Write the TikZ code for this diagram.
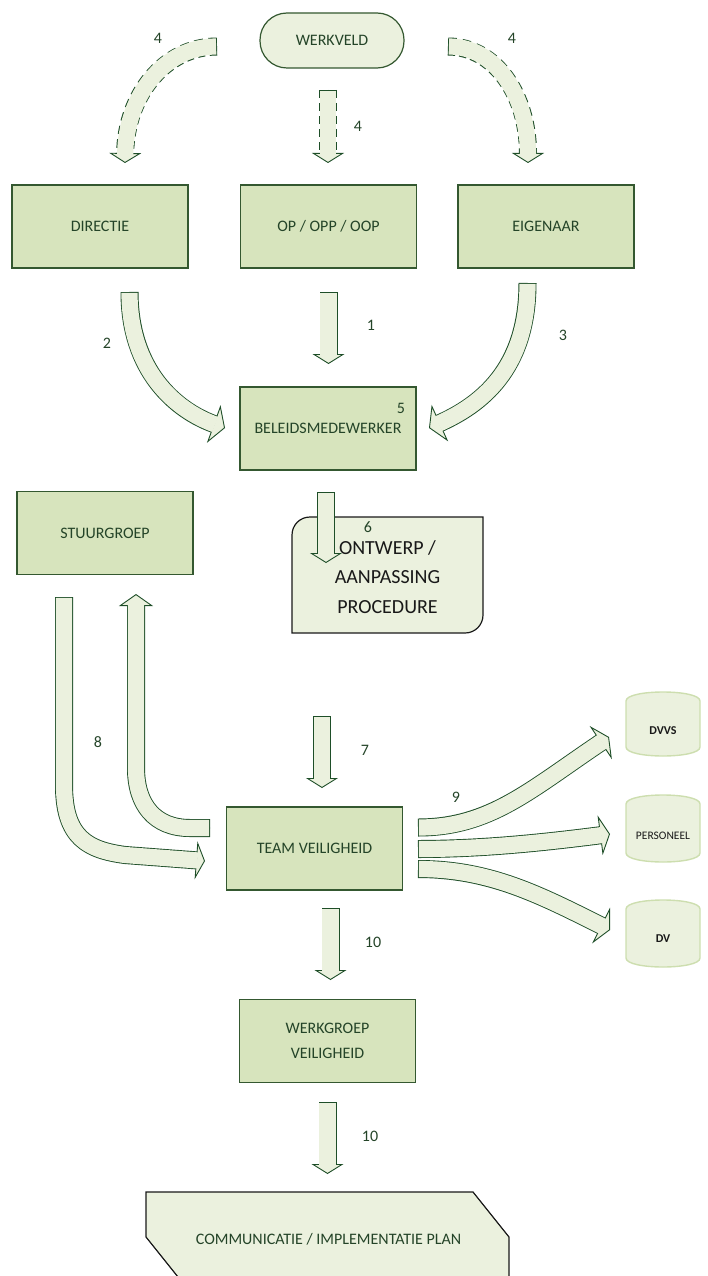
\documentclass[tikz,border=0pt]{standalone}
\usepackage{fontspec}
\setmainfont{Carlito}
\usetikzlibrary{arrows.meta}

\definecolor{boxfill}{RGB}{215,228,189}
\definecolor{boxline}{RGB}{52,88,48}
\definecolor{textgreen}{RGB}{36,68,40}
\definecolor{arrowfill}{RGB}{235,241,222}
\definecolor{arrowline}{RGB}{30,78,40}
\definecolor{canline}{RGB}{205,222,175}
\definecolor{darktext}{RGB}{25,25,25}

\tikzset{
  box/.style={draw=boxline, fill=boxfill, line width=1.4pt, minimum width=176pt, minimum height=83pt, inner sep=0pt, text=textgreen, align=center},
  startbox/.style={draw=boxline, fill=arrowfill, line width=1.2pt, rounded corners=27pt, minimum width=144pt, minimum height=55pt, text=textgreen},
  procbox/.style={draw=darktext, fill=arrowfill, line width=1.2pt},
  can/.style={draw=canline, fill=arrowfill, line width=1.4pt},
  cantext/.style={text=darktext, font=\fontsize{11.5}{13}\selectfont},
  num/.style={text=textgreen, inner sep=0pt},
  fatarrow/.style 2 args={draw=arrowline, line width=0.9pt,
    -{Triangle[width=#1, length=#2, fill=arrowfill]},
    preaction={draw=arrowline, line width=18pt, -, shorten >=#2-0.5pt},
    postaction={draw=arrowfill, solid, line width=16.2pt, -, shorten <=0.9pt, shorten >=#2-1.5pt}},
  dasharrow/.style 2 args={draw=arrowline, line width=0.9pt,
    -{Triangle[width=#1, length=#2, fill=arrowfill]},
    preaction={draw=arrowline, line width=18pt, -, dash pattern=on 8pt off 5pt, shorten >=#2-0.5pt},
    postaction={draw=arrowfill, solid, line width=16.2pt, -, shorten <=0.9pt, shorten >=#2-1.5pt}}
}

\begin{document}
\begin{tikzpicture}[x=1pt, y=-1pt, font=\fontsize{16}{19}\selectfont]
	\useasboundingbox (0,0) rectangle (707,1276);

	\node[startbox] (werkveld) at (332,40.5) {WERKVELD};
	\node[box] (directie) at (100,226.5) {DIRECTIE};
	\node[box] (opp) at (328.5,226.5) {OP / OPP / OOP};
	\node[box] (eigenaar) at (546,226.5) {EIGENAAR};
	\node[box] (beleid) at (328,428.5) {BELEIDSMEDEWERKER};
	\node[box] (stuur) at (105,533) {STUURGROEP};
	\node[box] (team) at (314.5,848.5) {TEAM VEILIGHEID};
	\node[box, font=\fontsize{16}{25}\selectfont] (werkgroep) at (327.5,1041) {WERKGROEP\\VEILIGHEID};

	\draw[procbox] (292,633) -- (292,535) .. controls (292,525) and (300,517) .. (310,517) -- (483,517) -- (483,615) .. controls (483,625) and (475,633) .. (465,633) -- cycle;
	\node[text=darktext, align=center, font=\fontsize{20}{29.5}\selectfont] (ontwerp) at (387.5,577) {ONTWERP /\\AANPASSING\\PROCEDURE};

	\draw[procbox] (146,1192) -- (473,1192) -- (509,1237) -- (509,1282) -- (182,1282) -- (146,1237) -- cycle;
	\node[text=textgreen] (plan) at (328.5,1239) {COMMUNICATIE / IMPLEMENTATIE PLAN};

	\draw[can] (626,701) .. controls (626,689) and (700,689) .. (700,701) -- (700,747) .. controls (700,759) and (626,759) .. (626,747) -- cycle;
	\draw[can] (626,804) .. controls (626,792) and (700,792) .. (700,804) -- (700,853) .. controls (700,865) and (626,865) .. (626,853) -- cycle;
	\draw[can] (626,909) .. controls (626,897) and (700,897) .. (700,909) -- (700,958) .. controls (700,970) and (626,970) .. (626,958) -- cycle;
	\node[cantext, font=\fontsize{12}{14}\selectfont\bfseries] (dvvs) at (663,731) {DVVS};
	\node[cantext] (personeel) at (663,836) {PERSONEEL};
	\node[cantext, font=\fontsize{12}{14}\selectfont\bfseries] (dv) at (663,939) {DV};

	\coordinate (w4l) at (217,46.5);  \coordinate (d4l) at (125,163);
	\coordinate (w4m) at (328,90);    \coordinate (d4m) at (328,163);
	\coordinate (w4r) at (448,46.5);  \coordinate (d4r) at (528,163);
	\draw[dasharrow={32pt}{10pt}] (w4l) .. controls (165,46.5) and (126,95) .. (d4l);
	\draw[dasharrow={32pt}{10pt}] (w4m) -- (d4m);
	\draw[dasharrow={32pt}{10pt}] (w4r) .. controls (495,46.5) and (528,95) .. (d4r);

	\coordinate (a1s) at (328.5,292); \coordinate (a1e) at (328.5,364);
	\coordinate (a2s) at (129.5,292); \coordinate (a2e) at (225,428);
	\coordinate (a3s) at (527.5,283); \coordinate (a3e) at (429,428);
	\draw[fatarrow={32pt}{10pt}] (a1s) -- (a1e);
	\draw[fatarrow={40pt}{12pt}] (a2s) .. controls (129.5,370) and (175,410) .. (a2e);
	\draw[fatarrow={40pt}{12pt}] (a3s) .. controls (527.5,370) and (480,405) .. (a3e);

	\coordinate (a6s) at (326,492); \coordinate (a6e) at (326,563);
	\draw[fatarrow={32pt}{10pt}] (a6s) -- (a6e);

	\coordinate (a8s) at (64,597);  \coordinate (a8e) at (205,861);
	\coordinate (b8s) at (210,828); \coordinate (b8e) at (136,594);
	\draw[fatarrow={38pt}{9pt}] (a8s) -- (64,785) .. controls (64,838) and (88,850) .. (125,855) -- (a8e);
	\draw[fatarrow={34pt}{12pt}] (b8s) -- (190,828) .. controls (155,828) and (136,805) .. (136,768) -- (b8e);

	\coordinate (a7s) at (322,716); \coordinate (a7e) at (322,788);
	\draw[fatarrow={32pt}{10pt}] (a7s) -- (a7e);

	\coordinate (a9u) at (418,827.5); \coordinate (e9u) at (609,737);
	\coordinate (a9m) at (418,849);   \coordinate (e9m) at (610,834);
	\coordinate (a9d) at (418,869);   \coordinate (e9d) at (610,930);
	\draw[fatarrow={40pt}{10pt}] (a9u) .. controls (490,827.5) and (530,790) .. (e9u);
	\draw[fatarrow={40pt}{10pt}] (a9m) .. controls (480,849) and (540,843) .. (e9m);
	\draw[fatarrow={40pt}{10pt}] (a9d) .. controls (490,869) and (540,895) .. (e9d);

	\coordinate (a10s) at (330.5,908);  \coordinate (a10e) at (330.5,980);
	\coordinate (b10s) at (327.5,1102); \coordinate (b10e) at (327.5,1174);
	\draw[fatarrow={32pt}{10pt}] (a10s) -- (a10e);
	\draw[fatarrow={32pt}{10pt}] (b10s) -- (b10e);

	\node[num] (n4l) at (158,38) {4};
	\node[num] (n4m) at (358,126) {4};
	\node[num] (n4r) at (512,38) {4};
	\node[num] (n1) at (371,325) {1};
	\node[num] (n2) at (107,343) {2};
	\node[num] (n3) at (563,335) {3};
	\node[num] (n5) at (401,408) {5};
	\node[num] (n6) at (368,527) {6};
	\node[num] (n8) at (98,742) {8};
	\node[num] (n7) at (365,750) {7};
	\node[num] (n9) at (456,797) {9};
	\node[num] (n10a) at (373,942) {10};
	\node[num] (n10b) at (370,1136) {10};
\end{tikzpicture}
\end{document}
